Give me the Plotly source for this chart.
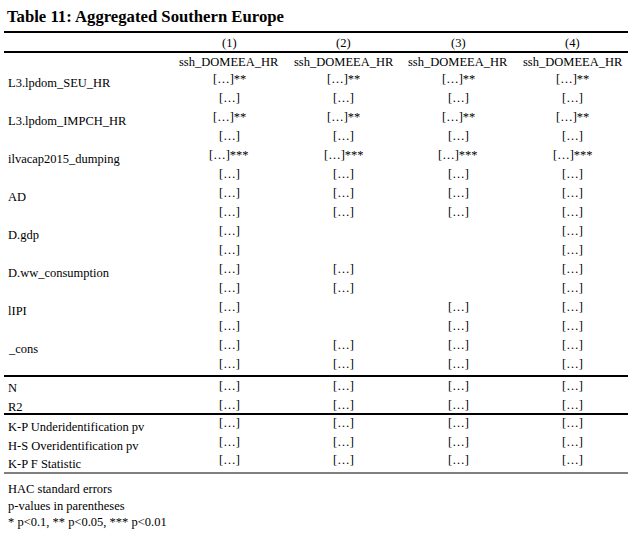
import plotly.graph_objects as go

# ---------------- data ----------------
title = "Table 11: Aggregated Southern Europe"
columns = ["(1)", "(2)", "(3)", "(4)"]
dep_vars = ["ssh_DOMEEA_HR", "ssh_DOMEEA_HR", "ssh_DOMEEA_HR", "ssh_DOMEEA_HR"]

variables = ["L3.lpdom_SEU_HR", "L3.lpdom_IMPCH_HR", "ilvacap2015_dumping", "AD",
             "D.gdp", "D.ww_consumption", "lIPI", "_cons"]
coefs = [
    ["[…]**", "[…]**", "[…]**", "[…]**"],
    ["[…]**", "[…]**", "[…]**", "[…]**"],
    ["[…]***", "[…]***", "[…]***", "[…]***"],
    ["[…]", "[…]", "[…]", "[…]"],
    ["[…]", "", "", "[…]"],
    ["[…]", "[…]", "", "[…]"],
    ["[…]", "", "[…]", "[…]"],
    ["[…]", "[…]", "[…]", "[…]"],
]
pvals = [
    ["[…]", "[…]", "[…]", "[…]"],
    ["[…]", "[…]", "[…]", "[…]"],
    ["[…]", "[…]", "[…]", "[…]"],
    ["[…]", "[…]", "[…]", "[…]"],
    ["[…]", "", "", "[…]"],
    ["[…]", "[…]", "", "[…]"],
    ["[…]", "", "[…]", "[…]"],
    ["[…]", "[…]", "[…]", "[…]"],
]
fit_stats = ["N", "R2"]
fit_values = [["[…]"] * 4, ["[…]"] * 4]
diag_stats = ["K-P Underidentification pv", "H-S Overidentification pv", "K-P F Statistic"]
diag_values = [["[…]"] * 4, ["[…]"] * 4, ["[…]"] * 4]
notes = ["HAC standard errors", "p-values in parentheses", "* p<0.1, ** p<0.05, *** p<0.01"]

# ---------------- layout constants ----------------
W, H = 630, 538
FONT = "Liberation Serif, Times New Roman, serif"
FS = 12.5
COL_X0, COL_DX = 229, 114.5
LABEL_X = 6
LINE_X0, LINE_X1 = 4, 628
VAL_Y0, ROW_DY = 79, 19
LABEL_OFF = 4

annotations = []
shapes = []


def txt(x, y, s, anchor="center", size=FS, bold=False):
    if s == "":
        return
    annotations.append(dict(
        x=x, y=y, xref="x", yref="y", text=("<b>%s</b>" % s) if bold else s,
        showarrow=False, xanchor=anchor, yanchor="middle",
        font=dict(family=FONT, size=size, color="black")))


def hline(y, w):
    shapes.append(dict(type="line", xref="x", yref="y", x0=LINE_X0, x1=LINE_X1,
                       y0=y, y1=y, line=dict(color="black", width=w)))


col_x = [COL_X0 + i * COL_DX for i in range(len(columns))]

# title
txt(LABEL_X - 1, 16, title, anchor="left", size=16.7, bold=True)

# header
hline(32, 2)
for x, c in zip(col_x, columns):
    txt(x, 43, c)
hline(52, 2)
for x, d in zip(col_x, dep_vars):
    txt(x, 62, d)

# coefficients block
for i, v in enumerate(variables):
    yc = VAL_Y0 + 2 * i * ROW_DY
    yp = yc + ROW_DY
    txt(LABEL_X, yc + LABEL_OFF, v, anchor="left")
    for j, x in enumerate(col_x):
        txt(x, yc, coefs[i][j])
        txt(x, yp, pvals[i][j])

hline(376, 2)
for i, s in enumerate(fit_stats):
    y = 386 + i * 18.5
    txt(LABEL_X, y + 2, s, anchor="left")
    for j, x in enumerate(col_x):
        txt(x, y, fit_values[i][j])

hline(414, 2)
for i, s in enumerate(diag_stats):
    y = 423 + i * 18.7
    txt(LABEL_X, y + 4, s, anchor="left")
    for j, x in enumerate(col_x):
        txt(x, y, diag_values[i][j])

hline(473, 1)
for i, n in enumerate(notes):
    txt(LABEL_X, 489 + i * 16.5, n, anchor="left")

fig = go.Figure()
fig.update_layout(
    width=W, height=H,
    margin=dict(l=0, r=0, t=0, b=0),
    paper_bgcolor="white", plot_bgcolor="white",
    xaxis=dict(range=[0, W], visible=False, fixedrange=True),
    yaxis=dict(range=[H, 0], visible=False, fixedrange=True),
    annotations=annotations, shapes=shapes,
    showlegend=False,
)
fig.write_html("out.html", config={"displayModeBar": False},
               post_script="document.body.style.margin='0';document.body.style.overflow='hidden';")
